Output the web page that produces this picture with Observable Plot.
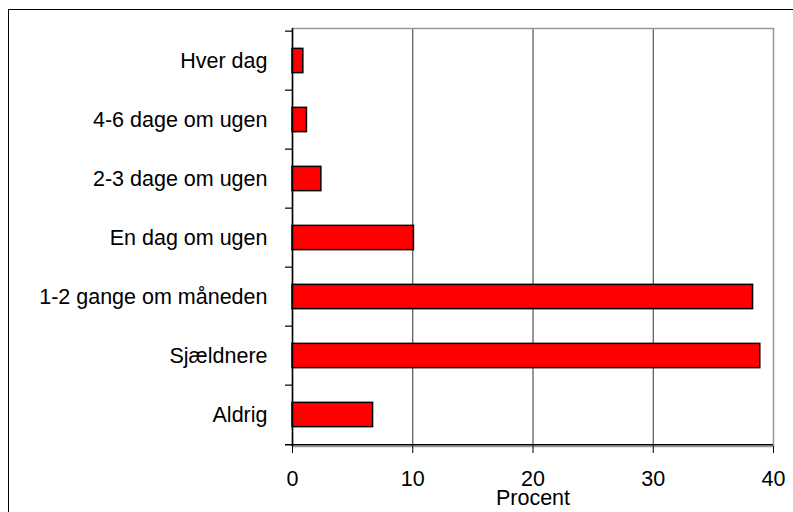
<!DOCTYPE html>
<html>
<head>
<meta charset="utf-8">
<script src="https://cdn.jsdelivr.net/npm/d3@7"></script>
<script src="https://cdn.jsdelivr.net/npm/@observablehq/plot@0.6"></script>
<style>
  html, body { margin: 0; padding: 0; background: #fff; }
  #wrap { position: relative; width: 793px; height: 512px; overflow: hidden; }
  #border { position: absolute; left: 8px; top: 9px; width: 800px; height: 520px; border: 1.5px solid #000; box-sizing: border-box; pointer-events: none; }
  #chart { position: absolute; left: 0; top: 0; }
</style>
</head>
<body>
<div id="wrap"><div id="chart"></div><div id="border"></div></div>
<script>
const categories = ["Hver dag", "4-6 dage om ugen", "2-3 dage om ugen", "En dag om ugen", "1-2 gange om måneden", "Sjældnere", "Aldrig"];
const values = [0.9, 1.2, 2.4, 10.1, 38.3, 38.9, 6.7];
const xTicks = [0, 10, 20, 30, 40];
const xLabel = "Procent";

const data = categories.map((c, i) => ({category: c, value: values[i]}));

const W = 793, H = 512;
const mL = 292, mR = 20, mT = 28, mB = 66;
const xMax = 40;
const pxPerUnit = (W - mL - mR) / xMax;
const step = (H - mT - mB) / categories.length;
const barH = 25;
const inset = (step - barH) / 2;
const tickLen = 7;
const FONT = "Arial, 'Liberation Sans', sans-serif";
const FS = 21.5;

const chart = Plot.plot({
  width: W,
  height: H,
  marginLeft: mL,
  marginRight: mR,
  marginTop: mT,
  marginBottom: mB,
  style: {fontFamily: FONT, fontSize: FS + "px", color: "#000", background: "transparent"},
  x: {domain: [0, xMax], ticks: xTicks, label: null},
  y: {domain: categories, padding: 0, label: null},
  marks: [
    Plot.gridX(xTicks.filter(t => t > 0 && t < xMax), {stroke: "#333", strokeOpacity: 1, strokeWidth: 1}),
    Plot.frame({stroke: "#999", strokeWidth: 1.5}),
    Plot.barX(data, {x: "value", y: "category", fill: "#ff0000", stroke: "#000", strokeWidth: 1.5, insetTop: inset, insetBottom: inset}),
    Plot.ruleY(categories, {y: d => d, x1: -tickLen / pxPerUnit, x2: 0, dy: -step / 2, stroke: "#000", strokeWidth: 1.2, clip: false}),
    Plot.ruleY([categories[categories.length - 1]], {y: d => d, x1: -tickLen / pxPerUnit, x2: xMax, dy: step / 2, stroke: "#000", strokeWidth: 1.5, clip: false}),
    Plot.ruleX([0], {stroke: "#000", strokeWidth: 1.5}),
    Plot.axisY({tickSize: 0, tickPadding: 25, fontSize: FS, fill: "#000", label: null}),
    Plot.axisX({ticks: xTicks, tickSize: 7, tickPadding: 17, fontSize: FS, tickFormat: d => String(d), label: null, stroke: "#000"}),
    Plot.text([xLabel], {frameAnchor: "bottom", dy: 58, fontSize: FS, fill: "#000"})
  ]
});
document.getElementById("chart").appendChild(chart);
</script>
</body>
</html>
